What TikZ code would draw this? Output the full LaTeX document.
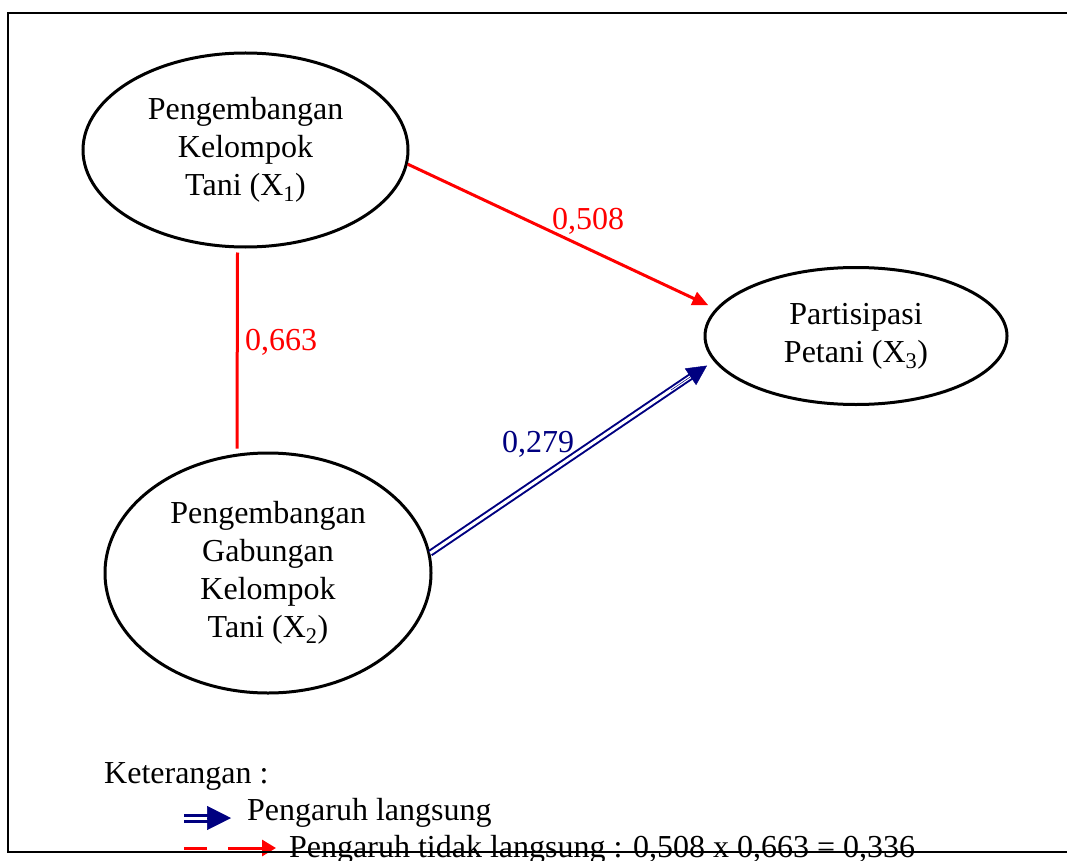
\documentclass[tikz,border=0pt]{standalone}
\usepackage{fontspec}
\setmainfont{Liberation Serif}
\usetikzlibrary{shapes.geometric,arrows.meta,calc}
\definecolor{myred}{RGB}{255,0,0}
\definecolor{mynavy}{RGB}{0,0,128}
\begin{document}
\begin{tikzpicture}[x=1pt,y=-1pt,
  every node/.style={font=\fontsize{32}{38}\selectfont, inner sep=0pt},
  var/.style={ellipse, draw=black, line width=3pt, align=center},
  redline/.style={draw=myred, line width=3pt},
  blueline/.style={draw=mynavy, line width=2pt, double=white, double distance=3pt},
  lbl/.style={anchor=base west},
  frame/.style={draw=black, line width=2.5pt}]
\useasboundingbox (0,0) rectangle (1067,861);
\fill[white] (0,0) rectangle (1067,861);
% variables
\node[var, minimum width=325pt, minimum height=194pt] (x1) at (245.5,150) {Pengembangan\\Kelompok\\Tani (X\textsubscript{1})};
\node[var, minimum width=326pt, minimum height=240pt] (x2) at (268,573) {Pengembangan\\Gabungan\\Kelompok\\Tani (X\textsubscript{2})};
\node[var, minimum width=302pt, minimum height=137pt] (x3) at (856,336) {Partisipasi\\Petani (X\textsubscript{3})};
% connectors
\draw[redline, -{Triangle[length=16pt,width=14pt]}, shorten >=8pt] (x1.355) -- (x3.169);
\draw[redline] ($(x1.south)+(-8,4)$) -- ($(x2.north)+(-31,-3)$);
\draw[blueline, shorten >=26pt] (x2.7) -- (x3.190);
\draw[mynavy, line width=0.5pt, -{Triangle[length=20pt,width=20pt]}, shorten >=8pt] ($(x2.7)!0.85!(x3.190)$) -- (x3.190);
% labels
\node[lbl, text=myred] (l508) at (552,229) {0,508};
\node[lbl, text=myred] (l663) at (245,350) {0,663};
\node[lbl, text=mynavy] (l279) at (502,452) {0,279};
% legend
\node[lbl] (ket) at (104,783) {Keterangan :};
\coordinate (lb1) at (184,818);
\coordinate (lb2) at (231,818);
\draw[mynavy, line width=3pt, double=white, double distance=3pt, shorten >=20pt] (lb1) -- (lb2);
\draw[mynavy, line width=0.5pt, -{Triangle[length=24pt,width=24pt]}] ($(lb1)!0.5!(lb2)$) -- (lb2);
\node[lbl] (t1) at (247,820) {Pengaruh langsung};
\coordinate (lr1) at (184,848);
\coordinate (lr2) at (276,848);
\draw[myred, line width=3pt, dash pattern=on 23pt off 21pt on 100pt, -{Triangle[length=14pt,width=16pt]}] (lr1) -- (lr2);
\node[lbl] (t2) at (289,857) {Pengaruh tidak langsung : 0,508 x 0,663 = 0,336};
% frame
\draw[frame] (1072,13) -- (8,13) -- (8,852) -- (1072,852);
\end{tikzpicture}
\end{document}
